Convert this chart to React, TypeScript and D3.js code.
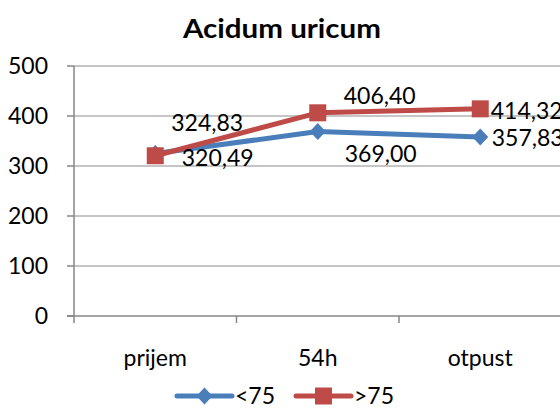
import React from "react";
import * as d3 from "d3";

const title = "Acidum uricum";
const categories = ["prijem", "54h", "otpust"];
const seriesNames = ["<75", ">75"];
const under75 = [324.83, 369.0, 357.83];
const over75 = [320.49, 406.4, 414.32];
const yTicks = [0, 100, 200, 300, 400, 500];

// label layout offsets (relative to point), not data
const labelOffsets = [
  [
    { dx: 52, dy: -30.6, anchor: "middle" },
    { dx: 63, dy: 22.5, anchor: "middle" },
    { dx: 11.5, dy: 0.5, anchor: "start" },
  ],
  [
    { dx: 62.5, dy: 1.8, anchor: "middle" },
    { dx: 62, dy: -17.3, anchor: "middle" },
    { dx: 10.5, dy: 1.7, anchor: "start" },
  ],
];

const colors = ["#4A7EBB", "#BE4B48"];
const FONT = "Lato, 'Open Sans', sans-serif";

export default function App() {
  const W = 560, H = 409;
  const left = 74, right = 561.5, top = 66, bottom = 316;
  const x = d3.scaleBand<string>().domain(categories).range([left, right]).padding(0);
  const y = d3.scaleLinear().domain([0, 500]).range([bottom, top]);
  const cx = (c: string) => (x(c) as number) + x.bandwidth() / 2;
  const line = d3
    .line<number>()
    .x((_, i) => cx(categories[i]))
    .y((v) => y(v));
  const series = [under75, over75];
  const fmt = (v: number) => v.toFixed(2).replace(".", ",");
  const fs = 23;
  const base = 0.35 * fs;

  const marker = (si: number, px: number, py: number, key: string | number) =>
    si === 0 ? (
      <path
        key={key}
        d={`M${px},${py - 8.5}L${px + 8},${py}L${px},${py + 8.5}L${px - 8},${py}Z`}
        fill={colors[0]}
      />
    ) : (
      <rect key={key} x={px - 8.5} y={py - 8.5} width={17} height={17} fill={colors[1]} />
    );

  return (
    <svg
      width={W}
      height={H}
      style={{ position: "absolute", left: 0, top: 0, background: "#fff" }}
      fontFamily={FONT}
    >
      <text x={282} y={38} textAnchor="middle" fontWeight="bold" fontSize={27} textLength={198} lengthAdjust="spacingAndGlyphs" fill="#000">
        {title}
      </text>
      {yTicks.map((t) => (
        <g key={t}>
          {t > 0 && <line x1={left} x2={right} y1={y(t)} y2={y(t)} stroke="#8C8C8C" strokeWidth={1} />}
          <line x1={67} x2={left} y1={y(t)} y2={y(t)} stroke="#868686" strokeWidth={1.5} />
          <text x={48} y={y(t) + base} textAnchor="end" fontSize={fs} fill="#000">
            {t}
          </text>
        </g>
      ))}
      <line x1={left} x2={left} y1={top} y2={bottom} stroke="#868686" strokeWidth={1.5} />
      <line x1={67} x2={right} y1={bottom} y2={bottom} stroke="#868686" strokeWidth={1.5} />
      {[0, 1, 2, 3].map((i) => (
        <line key={i} x1={left + i * x.bandwidth()} x2={left + i * x.bandwidth()} y1={bottom} y2={bottom + 7} stroke="#868686" strokeWidth={1.5} />
      ))}
      {categories.map((c) => (
        <text key={c} x={cx(c)} y={366} textAnchor="middle" fontSize={fs} fill="#000">
          {c}
        </text>
      ))}
      {series.map((s, si) => (
        <g key={si}>
          <path d={line(s) || ""} fill="none" stroke={colors[si]} strokeWidth={5} strokeLinejoin="round" strokeLinecap="round" />
          {s.map((v, i) => marker(si, cx(categories[i]), y(v), i))}
        </g>
      ))}
      {series.map((s, si) =>
        s.map((v, i) => {
          const o = labelOffsets[si][i];
          return (
            <text
              key={`${si}-${i}`}
              x={cx(categories[i]) + o.dx}
              y={y(v) + o.dy + base}
              textAnchor={o.anchor}
              fontSize={fs}
              fill="#000"
            >
              {fmt(v)}
            </text>
          );
        })
      )}
      {seriesNames.map((n, si) => {
        const x0 = si === 0 ? 177 : 296;
        const ly = 396;
        return (
          <g key={n}>
            <line x1={x0} x2={x0 + 55} y1={ly} y2={ly} stroke={colors[si]} strokeWidth={5} strokeLinecap="round" />
            {marker(si, x0 + 27.5, ly, "m")}
            <text x={x0 + 58} y={ly + base} fontSize={fs} fill="#000">
              {n}
            </text>
          </g>
        );
      })}
    </svg>
  );
}
